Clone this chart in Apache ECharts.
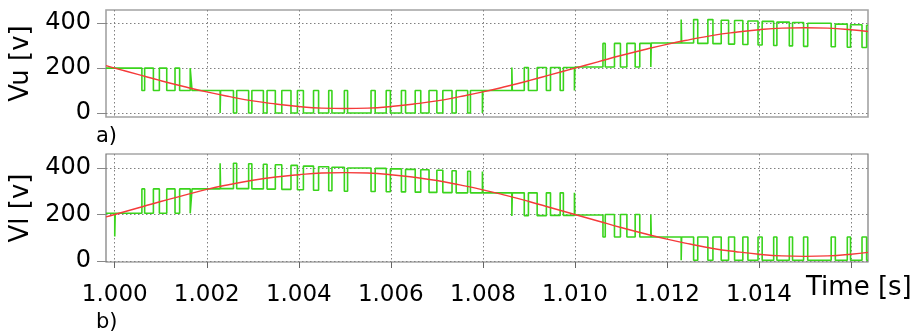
<!DOCTYPE html>
<html><head><meta charset="utf-8">
<script src="https://cdn.jsdelivr.net/npm/echarts@6/dist/echarts.min.js"></script>
<style>html,body{margin:0;padding:0;background:#fff}#c{width:916px;height:334px}</style>
</head><body><div id="c"></div>
<script>
// ---- data ----
const xTickValues = [1.000, 1.002, 1.004, 1.006, 1.008, 1.010, 1.012, 1.014, 1.016];
const xLabelValues = [1.000, 1.002, 1.004, 1.006, 1.008, 1.010, 1.012, 1.014];
const yTickValues = [0, 200, 400];
const tStart = 0.99981;
const tEnd = 1.01637;

// reference (red) curves
const refTimes = [0.99981, 1.0000, 1.0005, 1.0010, 1.0015, 1.0020, 1.0025, 1.0030, 1.0035, 1.0040, 1.0045,
  1.0050, 1.0055, 1.0060, 1.0065, 1.0070, 1.0075, 1.0080, 1.0085, 1.0090, 1.0095,
  1.0100, 1.0105, 1.0110, 1.0115, 1.0120, 1.0125, 1.0130, 1.0135, 1.0140, 1.0145,
  1.0150, 1.0155, 1.0160, 1.01637];
const vuRef = [211, 200, 172, 144, 118, 94, 73, 54, 40, 29, 22, 20, 22, 29, 40, 54, 73, 94, 118, 144, 172,
  200, 228, 256, 282, 306, 327, 346, 360, 371, 378, 380, 378, 371, 363];
const vlRef = [190, 200, 228, 256, 282, 308, 329, 347, 361, 371, 378, 380, 378, 371, 360, 346, 327, 306, 282, 256, 228,
  200, 172, 144, 118, 94, 73, 54, 40, 29, 22, 20, 22, 29, 37];

// multilevel output (green): switching instants and the level held from each instant
const vuTimes = [0.99981, 1.00059, 1.00065, 1.00084, 1.00097, 1.00113, 1.00131, 1.00141, 1.00164, 1.00168,
  1.00229, 1.00230, 1.00258, 1.00265, 1.00291, 1.00298, 1.00323, 1.00331, 1.00349, 1.00363,
  1.00383, 1.00397, 1.00410, 1.00432, 1.00443, 1.00465, 1.00472, 1.00499, 1.00506, 1.00557,
  1.00566, 1.00590, 1.00599, 1.00623, 1.00632, 1.00653, 1.00665, 1.00683, 1.00700, 1.00713,
  1.00733, 1.00742, 1.00767, 1.00773, 1.00799, 1.00800,
  1.00863, 1.00864, 1.00890, 1.00899, 1.00918, 1.00938, 1.00947, 1.00968, 1.00975, 1.00999, 1.01000,
  1.01061, 1.01066, 1.01086, 1.01099, 1.01113, 1.01131, 1.01141, 1.01165, 1.01166,
  1.01231, 1.01232, 1.01258, 1.01267, 1.01289, 1.01300, 1.01318, 1.01334, 1.01347, 1.01365,
  1.01376, 1.01398, 1.01407, 1.01432, 1.01439, 1.01466, 1.01473, 1.01497, 1.01506, 1.01557,
  1.01566, 1.01592, 1.01599, 1.01624, 1.01634];
const vuLevels = [200, 100, 200, 100, 200, 100, 200, 100, 200, 100,
  0, 100, 0, 100, 0, 100, 0, 100, 0, 100,
  0, 100, 0, 100, 0, 100, 0, 100, 0, 100,
  0, 100, 0, 100, 0, 100, 0, 100, 0, 100,
  0, 100, 0, 100, 0, 100,
  203, 100, 203, 100, 203, 100, 203, 100, 203, 100, 205,
  310, 205, 310, 205, 310, 205, 310, 205, 312,
  416, 312, 416, 310, 416, 309, 413, 307, 412, 305,
  410, 303, 408, 301, 405, 299, 403, 297, 400, 295,
  396, 293, 393, 292, 391];

const vlTimes = [0.99981, 1.00000, 1.00001, 1.00059, 1.00065, 1.00084, 1.00097, 1.00113, 1.00131, 1.00141, 1.00164, 1.00168,
  1.00229, 1.00230, 1.00258, 1.00265, 1.00291, 1.00298, 1.00323, 1.00331, 1.00349, 1.00363,
  1.00383, 1.00397, 1.00410, 1.00432, 1.00443, 1.00465, 1.00472, 1.00499, 1.00506, 1.00557,
  1.00566, 1.00590, 1.00599, 1.00623, 1.00632, 1.00653, 1.00665, 1.00683, 1.00700, 1.00713,
  1.00733, 1.00742, 1.00767, 1.00773, 1.00799, 1.00800,
  1.00863, 1.00864, 1.00890, 1.00899, 1.00918, 1.00938, 1.00947, 1.00968, 1.00975, 1.00999, 1.01000,
  1.01061, 1.01066, 1.01086, 1.01099, 1.01113, 1.01131, 1.01141, 1.01165, 1.01166,
  1.01231, 1.01232, 1.01258, 1.01267, 1.01289, 1.01300, 1.01318, 1.01334, 1.01347, 1.01365,
  1.01376, 1.01398, 1.01407, 1.01432, 1.01439, 1.01466, 1.01473, 1.01497, 1.01506, 1.01557,
  1.01566, 1.01592, 1.01599, 1.01624, 1.01634];
const vlLevels = [205, 105, 205, 310, 205, 310, 205, 310, 205, 310, 205, 310,
  420, 311, 420, 311, 418, 310, 416, 309, 414, 308,
  411, 306, 408, 304, 405, 302, 403, 300, 400, 299,
  398, 298, 396, 297, 394, 296, 392, 295, 390, 294,
  388, 293, 386, 293, 385, 293,
  193, 293, 195, 293, 195, 293, 196, 293, 196, 293, 198,
  103, 200, 103, 200, 103, 200, 103, 200, 103,
  3, 103, 3, 103, 3, 103, 3, 103, 3, 103,
  3, 103, 3, 103, 3, 103, 3, 103, 3, 103,
  3, 103, 3, 103, 3];

// ---- build chart ----
function stepPoints(times, levels, end) {
  const pts = [];
  for (let i = 0; i < times.length; i++) {
    if (i > 0) pts.push([times[i], levels[i - 1]]);
    pts.push([times[i], levels[i]]);
  }
  pts.push([end, levels[levels.length - 1]]);
  return pts;
}
function zipPts(xs, ys) { return xs.map((x, i) => [x, ys[i]]); }

const FONT = '"DejaVu Sans", Verdana, sans-serif';
const GREEN = '#3ad41c';
const RED = '#f53a3a';
const gridLine = { show: true, lineStyle: { color: '#808080', width: 1, type: [1.5, 2.5] } };

function xAxisCfg(idx, showLabels) {
  return {
    type: 'value', gridIndex: idx, min: tStart, max: tEnd,
    axisLine: { show: false, onZero: false },
    axisTick: { show: true, customValues: xTickValues, length: showLabels ? 6 : 0, inside: false,
      lineStyle: { color: showLabels ? '#666' : 'rgba(0,0,0,0)', width: 1 } },
    axisLabel: { show: showLabels, customValues: xLabelValues, margin: 22,
      formatter: v => v.toFixed(3), fontSize: 23, fontFamily: FONT, color: '#000' },
    splitLine: gridLine
  };
}
function yAxisCfg(idx, name, mn, mx) {
  return {
    type: 'value', gridIndex: idx, min: mn, max: mx,
    name: name, nameLocation: 'middle', nameGap: 68,
    nameTextStyle: { fontSize: 26, fontFamily: FONT, color: '#000' },
    axisLine: { show: false },
    axisTick: { show: true, customValues: yTickValues, length: 9, lineStyle: { color: '#888', width: 1 } },
    axisLabel: { customValues: yTickValues, margin: 15, fontSize: 24, fontFamily: FONT, color: '#000' },
    splitLine: gridLine
  };
}

const chart = echarts.init(document.getElementById('c'), null, { renderer: 'canvas' });
chart.setOption({
  animation: false,
  backgroundColor: '#fff',
  grid: [
    { left: 106, top: 10, width: 762, height: 107, show: true, borderColor: '#a3a3a3', borderWidth: 1.6, backgroundColor: 'transparent' },
    { left: 106, top: 154, width: 762, height: 108, show: true, borderColor: '#7a7a7a', borderWidth: 1.2, backgroundColor: 'transparent' }
  ],
  xAxis: [xAxisCfg(0, false), xAxisCfg(1, true)],
  yAxis: [yAxisCfg(0, 'Vu [v]', -17.7, 458.8), yAxisCfg(1, 'Vl [v]', -4.3, 460)],
  series: [
    { name: 'Vu', type: 'line', xAxisIndex: 0, yAxisIndex: 0, data: stepPoints(vuTimes, vuLevels, tEnd),
      showSymbol: false, symbol: 'none', lineStyle: { color: GREEN, width: 1.6 }, z: 2 },
    { name: 'Vu ref', type: 'line', xAxisIndex: 0, yAxisIndex: 0, data: zipPts(refTimes, vuRef), smooth: 0.5,
      showSymbol: false, symbol: 'none', lineStyle: { color: RED, width: 1.4 }, z: 3 },
    { name: 'Vl', type: 'line', xAxisIndex: 1, yAxisIndex: 1, data: stepPoints(vlTimes, vlLevels, tEnd),
      showSymbol: false, symbol: 'none', lineStyle: { color: GREEN, width: 1.6 }, z: 2 },
    { name: 'Vl ref', type: 'line', xAxisIndex: 1, yAxisIndex: 1, data: zipPts(refTimes, vlRef), smooth: 0.5,
      showSymbol: false, symbol: 'none', lineStyle: { color: RED, width: 1.4 }, z: 3 }
  ],
  graphic: [
    { type: 'text', left: 96, top: 126, style: { text: 'a)', fontSize: 21, fontFamily: FONT, fill: '#000' } },
    { type: 'text', left: 96, top: 312, style: { text: 'b)', fontSize: 21, fontFamily: FONT, fill: '#000' } },
    { type: 'text', left: 806, top: 275, style: { text: 'Time [s]', fontSize: 26, fontFamily: FONT, fill: '#000' } }
  ]
});
</script></body></html>
